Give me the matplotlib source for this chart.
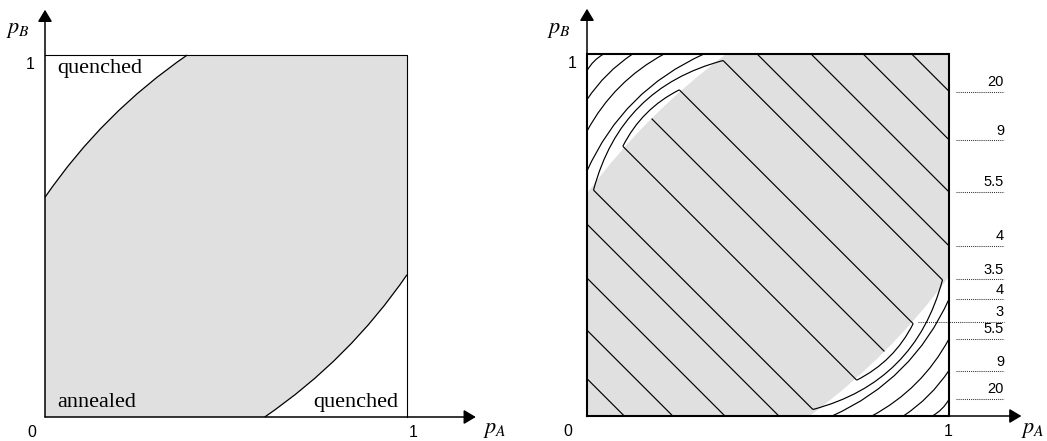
import numpy as np
import matplotlib
matplotlib.use("Agg")
import matplotlib.pyplot as plt
from matplotlib.path import Path
from matplotlib.patches import PathPatch

plt.rcParams["mathtext.fontset"] = "stix"

GREY = "#e0e0e0"

# annealed/quenched boundary, described for the corner (1, 0); the (0, 1) corner is the point mirror.
# reach = where the curve meets the frame, mid = distance of the curve from the corner along the anti-diagonal
left_reach = 0.393
left_mid = 0.252
right_reach = 0.385
right_mid = 0.252

# right panel: straight contours pA + pB = 1 +/- d running frame to frame
edge_levels = ["20", "9", "5.5", "4"]
edge_line_d = [0.897, 0.763, 0.619, 0.470]
# arcs of the same levels in the quenched corners
edge_arc_s = [0.046, 0.126, 0.213, 0.323]
edge_arc_mid = [0.028, 0.080, 0.128, 0.185]

# closed contours: lower end of their arc in the (1, 0) corner, and the arc's mid distance
ring_levels = ["3", "3.5"]
ring_end_x = [0.745, 0.624]
ring_end_y = [0.099, 0.018]
ring_mid = [0.232, 0.205]

# labels on the right of the right panel
tag_text = ["20", "9", "5.5", "4", "3.5", "4", "3", "5.5", "9", "20"]
tag_y = [0.895, 0.762, 0.619, 0.470, 0.378, 0.323, 0.260, 0.213, 0.124, 0.047]
tag_from = [1.02, 1.02, 1.02, 1.02, 1.02, 1.02, 0.914, 1.02, 1.02, 1.02]

W, H = 1047, 441
fig = plt.figure(figsize=(W / 100, H / 100), dpi=100)


def panel(x0, y0, side=362):
    ax = fig.add_axes([x0 / W, (H - y0) / H, side / W, side / H])
    ax.set_xlim(0, 1)
    ax.set_ylim(0, 1)
    ax.axis("off")
    return ax


def diag_point(r):
    # point at distance r from corner (1, 0) along the anti-diagonal
    return np.array([1 - r / np.sqrt(2), r / np.sqrt(2)])


def bezier(p0, p2, mid):
    p0, p2 = np.asarray(p0, float), np.asarray(p2, float)
    ctrl = 2 * mid - (p0 + p2) / 2
    return p0, ctrl, p2


def mirror(p):
    return 1 - np.asarray(p)


def curve_path(p0, c, p2):
    return Path([p0, c, p2], [Path.MOVETO, Path.CURVE3, Path.CURVE3])


def draw_curve(ax, pts, lw):
    ax.add_patch(PathPatch(curve_path(*pts), facecolor="none", edgecolor="black",
                           lw=lw, zorder=2, clip_on=False))


def grey_region(ax, reach, mid, outline):
    p0, c, p2 = bezier((1 - reach, 0), (1, reach), diag_point(mid))
    verts = [(0, 0), p0, c, p2, (1, 1), mirror(p0), mirror(c), mirror(p2), (0, 0)]
    codes = [Path.MOVETO, Path.LINETO, Path.CURVE3, Path.CURVE3, Path.LINETO,
             Path.LINETO, Path.CURVE3, Path.CURVE3, Path.CLOSEPOLY]
    patch = PathPatch(Path(verts, codes), facecolor=GREY, edgecolor="none", zorder=0)
    ax.add_patch(patch)
    if outline:
        draw_curve(ax, (p0, c, p2), 0.9)
        draw_curve(ax, (mirror(p0), mirror(c), mirror(p2)), 0.9)
    return patch


def axes_arrows(ax, xtip, ytip, lw):
    style = "-|>,head_length=0.6,head_width=0.36"
    for tip in [(xtip, 0), (0, ytip)]:
        ax.annotate("", xy=tip, xytext=(0, 0), annotation_clip=False,
                    arrowprops=dict(arrowstyle=style, color="black", lw=lw,
                                    shrinkA=0, shrinkB=0, mutation_scale=12))


def axis_text(ax, pb_xy, one_y_xy, zero_xy, one_x_xy, pa_xy):
    ax.text(*pb_xy, r"$p_B$", fontsize=16, ha="center", va="center")
    ax.text(*pa_xy, r"$p_A$", fontsize=16, ha="center", va="center")
    for xy, s in [(one_y_xy, "1"), (zero_xy, "0"), (one_x_xy, "1")]:
        ax.text(*xy, s, fontsize=11.5, family="Liberation Sans", ha="center", va="center")


# ---------------- left panel ----------------
axL = panel(45, 417)
grey_region(axL, left_reach, left_mid, outline=True)
axL.plot([0, 1, 1], [1, 1, 0], color="black", lw=0.8, zorder=3, clip_on=False)
axes_arrows(axL, 1.19, 1.125, 1.1)
axis_text(axL, (-0.075, 1.07), (-0.042, 0.975), (-0.036, -0.043), (1.017, -0.043), (1.243, -0.036))
serif = dict(family="Liberation Serif", fontsize=16)
axL.text(0.033, 0.95, "quenched", ha="left", va="baseline", **serif)
axL.text(0.033, 0.028, "annealed", ha="left", va="baseline", **serif)
axL.text(0.975, 0.028, "quenched", ha="right", va="baseline", **serif)

# ---------------- right panel ----------------
axR = panel(587, 416)
gpatch = grey_region(axR, right_reach, right_mid, outline=False)
line_kw = dict(color="black", lw=0.85, zorder=2, solid_capstyle="butt")

# central line pA + pB = 1, only inside the grey region
ln, = axR.plot([0, 1], [1, 0], **line_kw)
ln.set_clip_path(gpatch)

for d, s, m in zip(edge_line_d, edge_arc_s, edge_arc_mid):
    axR.plot([d, 1], [1, d], **line_kw)
    axR.plot([0, 1 - d], [1 - d, 0], **line_kw)
    p0, c, p2 = bezier((1 - s, 0), (1, s), diag_point(m))
    draw_curve(axR, (p0, c, p2), 0.85)
    draw_curve(axR, (mirror(p0), mirror(c), mirror(p2)), 0.85)

for ex, ey, m in zip(ring_end_x, ring_end_y, ring_mid):
    lo = np.array([ex, ey])
    hi = np.array([1 - ey, 1 - ex])
    p0, c, p2 = bezier(lo, hi, diag_point(m))
    draw_curve(axR, (p0, c, p2), 0.85)
    draw_curve(axR, (mirror(p0), mirror(c), mirror(p2)), 0.85)
    # the two straight sides joining the arcs
    axR.plot([mirror(hi)[0], lo[0]], [mirror(hi)[1], lo[1]], **line_kw)
    axR.plot([mirror(lo)[0], hi[0]], [mirror(lo)[1], hi[1]], **line_kw)

axR.plot([0, 1, 1, 0, 0], [0, 0, 1, 1, 0], color="black", lw=1.5, zorder=3,
         solid_joinstyle="miter", clip_on=False)
axes_arrows(axR, 1.2, 1.125, 1.1)
axis_text(axR, (-0.077, 1.065), (-0.041, 0.975), (-0.052, -0.043), (0.997, -0.043), (1.232, -0.04))

for t, y, x0 in zip(tag_text, tag_y, tag_from):
    axR.plot([x0, 1.152], [y, y], color="#333333", lw=0.75, ls=(0, (1, 1)), clip_on=False, zorder=1)
    axR.text(1.152, y + 0.007, t, ha="right", va="bottom", fontsize=10.5, family="Liberation Sans")

fig.savefig("out.png", dpi=100)
